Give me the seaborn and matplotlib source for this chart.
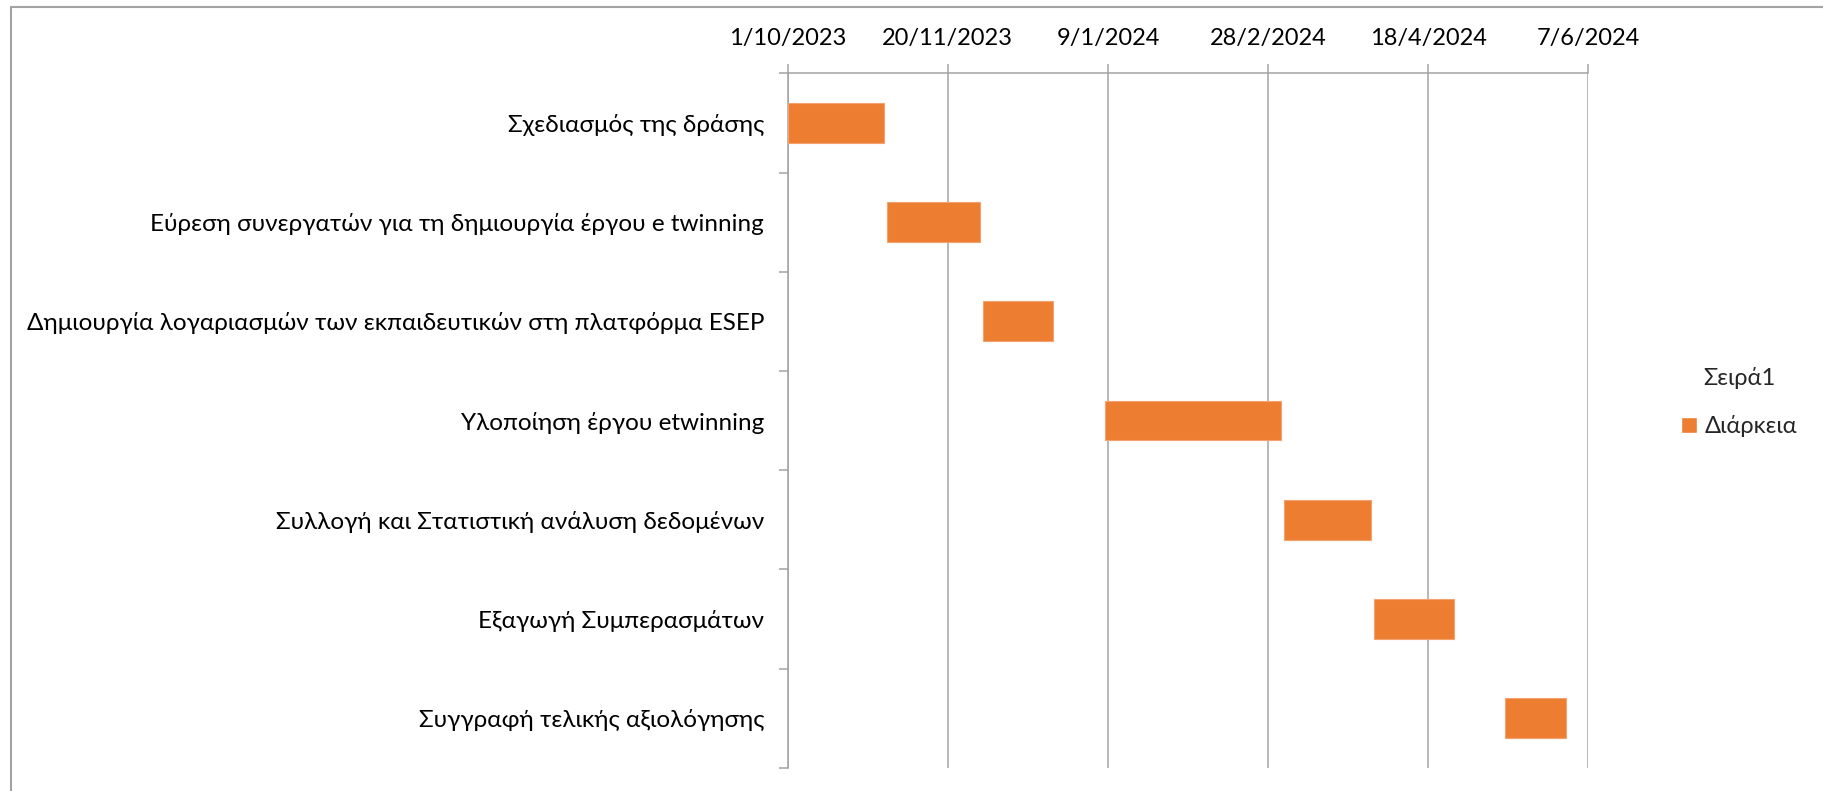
import numpy as np
import pandas as pd
import matplotlib.pyplot as plt
import matplotlib.dates as mdates
from matplotlib.patches import Patch, Rectangle
import seaborn as sns


    # data

tasks = ['Σχεδιασμός της δράσης',
         'Εύρεση συνεργατών για τη δημιουργία έργου e twinning',
         'Δημιουργία λογαριασμών των εκπαιδευτικών στη πλατφόρμα ESEP',
         'Υλοποίηση έργου etwinning',
         'Συλλογή και Στατιστική ανάλυση δεδομένων',
         'Εξαγωγή Συμπερασμάτων',
         'Συγγραφή τελικής αξιολόγησης']
starts = ['2023-10-01', '2023-11-01', '2023-12-01', '2024-01-08',
          '2024-03-04', '2024-04-01', '2024-05-12']
durations = [30, 29, 22, 55, 27, 25, 19]   # days
tick_labels = ['1/10/2023', '20/11/2023', '9/1/2024', '28/2/2024', '18/4/2024', '7/6/2024']
series_name = 'Σειρά1'
legend_label = 'Διάρκεια'

sns.set_style('white')
plt.rcParams['font.family'] = ['Lato', 'DejaVu Sans']

df = pd.DataFrame({'task': tasks, 'start': pd.to_datetime(starts), 'duration': durations})
df['left'] = mdates.date2num(df['start'])

tick_pos = mdates.date2num(pd.to_datetime(tick_labels, format='%d/%m/%Y'))

orange = '#ED7D31'
grey = '#A3A3A3'
fs = 17

fig = plt.figure(figsize=(18.23, 7.91), dpi=100)
ax = fig.add_axes([787.7/1823, 23.3/791, 800.6/1823, 694.4/791])

# gantt: bars start at 'left', length = duration
sns.barplot(data=df, x='duration', y='task', orient='y', left=df['left'].values,
            color=orange, saturation=1, width=0.4, edgecolor='#F4A36E', linewidth=0.8,
            ax=ax, zorder=3)

ax.set_xlim(tick_pos[0], tick_pos[-1])
ax.set_xticks(tick_pos)
ax.set_xticklabels(tick_labels)
ax.xaxis.tick_top()
ax.tick_params(axis='x', top=True, bottom=False, length=6.5, width=1.1, color=grey,
               pad=11, labelsize=fs, labelcolor='black')
ax.grid(axis='x', color=grey, linewidth=1.1)
ax.grid(axis='y', visible=False)
ax.set_axisbelow(True)

ax.set_yticks(np.arange(-0.5, len(tasks), 1), minor=True)
ax.tick_params(axis='y', which='major', length=0, pad=17, labelsize=17.5, labelcolor='black')
ax.tick_params(axis='y', which='minor', left=True, length=6.5, width=1.1, color=grey)
ax.set_xlabel('')
ax.set_ylabel('')

for s in ['bottom', 'right']:
    ax.spines[s].set_visible(False)
for s in ['top', 'left']:
    ax.spines[s].set_color(grey)
    ax.spines[s].set_linewidth(1.1)

handles = [Patch(facecolor=orange, label=legend_label)]
fig.legend(handles=handles, title=series_name, loc='center left',
           bbox_to_anchor=(1660/1823, 1 - 402/791), frameon=False,
           fontsize=fs, title_fontsize=fs, handlelength=0.65, handleheight=0.65,
           handletextpad=0.35, labelspacing=1.1)

# chart area border (only left/top visible in the crop)
fig.add_artist(Rectangle((11/1823, -0.5), 2, 0.5 + 1 - 6.5/791, transform=fig.transFigure,
                         fill=False, edgecolor=grey, linewidth=1.5))

fig.savefig('out.png', dpi=100)
